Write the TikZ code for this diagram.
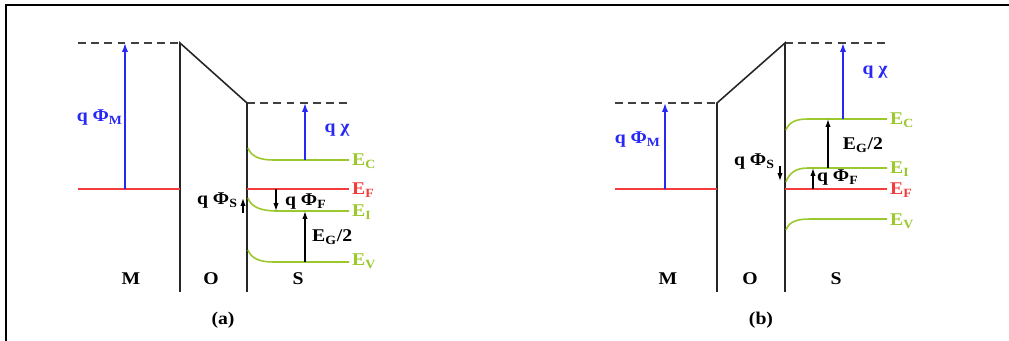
\documentclass[tikz,border=0pt]{standalone}
\usepackage{fontspec}
\setmainfont{Liberation Serif}[FakeStretch=1.1]
\usepackage{xcolor}
\usepackage{tikz}
\usetikzlibrary{arrows.meta, calc}

\definecolor{vacblue}{RGB}{40,40,245}
\definecolor{fermired}{RGB}{245,60,60}
\definecolor{bandgreen}{RGB}{155,200,45}

\begin{document}
\begin{tikzpicture}[
    x=0.02cm, y=-0.02cm,
    wall/.style={line width=0.9pt, black!85},
    vac/.style={line width=0.9pt, black!75, dash pattern=on 4.5pt off 3pt},
    fermi/.style={line width=0.9pt, fermired},
    band/.style={line width=0.9pt, bandgreen},
    lbl/.style={font=\fontsize{10.2}{12}\selectfont\bfseries, inner sep=1pt},
    vacarrow/.style={-{Latex[length=5pt,width=3.5pt]}, line width=0.9pt, vacblue},
    arrow/.style={-{Latex[length=4.5pt,width=3pt]}, line width=0.7pt, black}
]
\useasboundingbox (0,0) rectangle (1009,341);
\draw[line width=1.2pt] (6,341) -- (6,5) -- (1009,5);

% --- PANEL (a): COORDINATE GRID ---
\coordinate (aVacM) at (78,43);
\coordinate (aOxTL) at (180,43);
\coordinate (aOxBL) at (180,292);
\coordinate (aOxTR) at (247,103);
\coordinate (aOxBR) at (247,292);
\coordinate (aVacS) at (349,103);
\coordinate (aFm0) at (78,189);
\coordinate (aFm1) at (180,189);
\coordinate (aFs0) at (247,189);
\coordinate (aFs1) at (349,189);
\coordinate (aEC0) at (248,148);
\coordinate (aEC1) at (273,160);
\coordinate (aEC2) at (349,160);
\coordinate (aEI0) at (248,198);
\coordinate (aEI1) at (277,211);
\coordinate (aEI2) at (349,211);
\coordinate (aEV0) at (248,250);
\coordinate (aEV1) at (273,262);
\coordinate (aEV2) at (349,262);

% --- PANEL (a): LABELS ---
\node[lbl, vacblue, anchor=east] (aQM) at (125,118) {q Φ\textsubscript{M}};
\node[lbl, vacblue] (aQX) at (337,130) {q χ};
\node[lbl, bandgreen, anchor=west] (aEC) at (350,161) {E\textsubscript{C}};
\node[lbl, fermired, anchor=west] (aEF) at (350,190) {E\textsubscript{F}};
\node[lbl, bandgreen, anchor=west] (aEI) at (350,212) {E\textsubscript{I}};
\node[lbl, bandgreen, anchor=west] (aEV) at (350,261) {E\textsubscript{V}};
\node[lbl, anchor=west] (aQF) at (283,202) {q Φ\textsubscript{F}};
\node[lbl, anchor=east] (aQS) at (240,201) {q Φ\textsubscript{S}};
\node[lbl, anchor=west] (aEG) at (310,237) {E\textsubscript{G}/2};
\node[lbl] (aM) at (131,279) {M};
\node[lbl] (aO) at (211,279) {O};
\node[lbl] (aS) at (298,279) {S};
\node[lbl] (aCap) at (223,320) {(a)};

% --- PANEL (a): LEVELS ---
\draw[vac] (aVacM) -- (aOxTL);
\draw[vac] (aOxTR) -- (aVacS);
\draw[wall] (aOxBL) -- (aOxTL) -- (aOxTR) -- (aOxBR);
\draw[fermi] (aFm0) -- (aFm1);
\draw[fermi] (aFs0) -- (aFs1);
\draw[band] (aEC0) .. controls ($(aEC0)+(3,8)$) and ($(aEC1)+(-14,0)$) .. (aEC1) -- (aEC2);
\draw[band] (aEI0) .. controls ($(aEI0)+(3,9)$) and ($(aEI1)+(-16,0)$) .. (aEI1) -- (aEI2);
\draw[band] (aEV0) .. controls ($(aEV0)+(3,8)$) and ($(aEV1)+(-14,0)$) .. (aEV1) -- (aEV2);

% --- PANEL (a): ARROWS ---
\draw[vacarrow] (aQM.east |- aFm0) -- (aQM.east |- aVacM);
\draw[vacarrow] (305,160) -- (305,103);
\draw[arrow] (276,189) -- (276,211);
\draw[arrow] (305,262) -- (305,211);
\draw[arrow] (243,213) -- (243,198);

% --- PANEL (b): COORDINATE GRID ---
\coordinate (bVacM) at (615,103);
\coordinate (bOxTL) at (717,103);
\coordinate (bOxBL) at (717,292);
\coordinate (bOxTR) at (785,43);
\coordinate (bOxBR) at (785,292);
\coordinate (bVacS) at (887,43);
\coordinate (bFm0) at (615,189);
\coordinate (bFm1) at (717,189);
\coordinate (bFs0) at (785,189);
\coordinate (bFs1) at (887,189);
\coordinate (bEC0) at (786,130);
\coordinate (bEC1) at (808,119);
\coordinate (bEC2) at (887,119);
\coordinate (bEI0) at (786,182);
\coordinate (bEI1) at (808,168);
\coordinate (bEI2) at (887,168);
\coordinate (bEV0) at (786,230);
\coordinate (bEV1) at (810,219);
\coordinate (bEV2) at (887,219);

% --- PANEL (b): LABELS ---
\node[lbl, vacblue, anchor=east] (bQM) at (663,140) {q Φ\textsubscript{M}};
\node[lbl, vacblue] (bQX) at (875,72) {q χ};
\node[lbl, bandgreen, anchor=west] (bEC) at (888,120) {E\textsubscript{C}};
\node[lbl, bandgreen, anchor=west] (bEI) at (888,169) {E\textsubscript{I}};
\node[lbl, fermired, anchor=west] (bEF) at (888,190) {E\textsubscript{F}};
\node[lbl, bandgreen, anchor=west] (bEV) at (888,221) {E\textsubscript{V}};
\node[lbl] (bEG) at (863,145) {E\textsubscript{G}/2};
\node[lbl, anchor=west] (bQF) at (815,178) {q Φ\textsubscript{F}};
\node[lbl, anchor=east] (bQS) at (777,162) {q Φ\textsubscript{S}};
\node[lbl] (bM) at (668,279) {M};
\node[lbl] (bO) at (750,279) {O};
\node[lbl] (bS) at (836,279) {S};
\node[lbl] (bCap) at (761,320) {(b)};

% --- PANEL (b): LEVELS ---
\draw[vac] (bVacM) -- (bOxTL);
\draw[vac] (bOxTR) -- (bVacS);
\draw[wall] (bOxBL) -- (bOxTL) -- (bOxTR) -- (bOxBR);
\draw[fermi] (bFm0) -- (bFm1);
\draw[fermi] (bFs0) -- (bFs1);
\draw[band] (bEC0) .. controls ($(bEC0)+(3,-8)$) and ($(bEC1)+(-12,0)$) .. (bEC1) -- (bEC2);
\draw[band] (bEI0) .. controls ($(bEI0)+(3,-9)$) and ($(bEI1)+(-12,0)$) .. (bEI1) -- (bEI2);
\draw[band] (bEV0) .. controls ($(bEV0)+(3,-8)$) and ($(bEV1)+(-14,0)$) .. (bEV1) -- (bEV2);

% --- PANEL (b): ARROWS ---
\draw[vacarrow] (665,189) -- (665,103);
\draw[vacarrow] (843,119) -- (843,43);
\draw[arrow] (828,168) -- (828,119);
\draw[arrow] (813,189) -- (813,168);
\draw[arrow] (780,166) -- (780,181);
\end{tikzpicture}
\end{document}
